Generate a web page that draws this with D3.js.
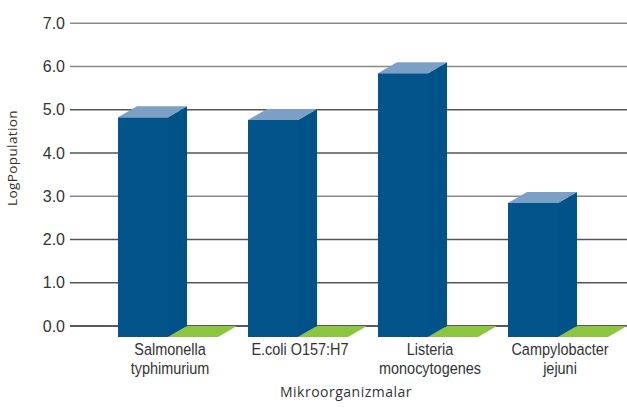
<!DOCTYPE html>
<html>
<head>
    <meta charset='utf-8' />
    <title></title>
    <style>
      body{ margin:0; background:#fff; }
      svg{ display:block; }
      .tick text{ font-family: "Liberation Sans", Arial, sans-serif; font-size:16px; fill:#333; }
      .cat{ font-family: "Liberation Sans", Arial, sans-serif; font-size:17px; fill:#333; }
      .title{ font-family: "Open Sans", "Noto Sans", sans-serif; fill:#333; }
    </style>
</head>
<body>
<script src="https://d3js.org/d3.v7.min.js"></script>
<script>

// data
let categories = ['Salmonella typhimurium', 'E.coli O157:H7', 'Listeria monocytogenes', 'Campylobacter jejuni']
let catLines = [['Salmonella','typhimurium'], ['E.coli O157:H7'], ['Listeria','monocytogenes'], ['Campylobacter','jejuni']]
let logPop = [5.08, 5.02, 6.1, 3.1]
let series2 = [0, 0, 0, 0]
let yTicks = [0, 1, 2, 3, 4, 5, 6, 7]

let width = 627, height = 409,
  depthX = 19, depthY = 11

let svg = d3.select('body').append('svg').attr('width',width).attr('height',height)

let x = d3.scaleBand().domain(categories).range([103, 623]).paddingInner(0.2308).paddingOuter(0.1154)
let xs = d3.scaleBand().domain(['a','b']).range([0, x.bandwidth()])
let y = d3.scaleLinear().domain([0,7]).range([326, 23.3])

// grid (back wall)
let grid = svg.append('g')
grid.selectAll('line').data(yTicks).enter().append('line')
  .attr('x1',70).attr('x2',width)
  .attr('y1',d => y(d)).attr('y2',d => y(d))
  .style('stroke',d => d == 0 ? '#222' : (d >= 6 || d == 3 ? '#888' : '#555'))
  .style('stroke-width',1.5)

let yAxis = svg.append('g').attr('transform','translate(70,0)')
  .call(d3.axisLeft(y).tickValues(yTicks).tickFormat(d3.format('.1f')).tickSize(0).tickPadding(5))
yAxis.select('.domain').remove()

function bar3d(g, x0, w, v, front, top, side){
  let yb = y(v) + depthY, y0 = y(0) + depthY
  if(y0 - yb > 0){
    g.append('rect').attr('x',x0).attr('y',yb).attr('width',w).attr('height',y0-yb).style('fill',front)
    g.append('polygon')
      .attr('points',[[x0+w,yb],[x0+w+depthX,yb-depthY],[x0+w+depthX,y0-depthY],[x0+w,y0]].join(' '))
      .style('fill',side)
  }
  g.append('polygon')
    .attr('points',[[x0,yb],[x0+w,yb],[x0+w+depthX,yb-depthY],[x0+depthX,yb-depthY]].join(' '))
    .style('fill',top)
}

let bars = svg.append('g')
categories.forEach((c,i) => {
  let g = bars.append('g')
  // green (zero) first so the blue side sits on top
  bar3d(g, x(c)+xs('b'), xs.bandwidth(), series2[i], '#8cc63e', '#8cc63e', '#7ab232')
  bar3d(g, x(c)+xs('a'), xs.bandwidth(), logPop[i], '#02548b', '#7b9fc5', '#02528a')
})

// category labels, narrow font look via horizontal squeeze
let labels = svg.append('g')
categories.forEach((c,i) => {
  let cx = x(c) + x.bandwidth()/2 + 2
  let t = labels.append('text').attr('class','cat')
    .attr('text-anchor','middle')
    .attr('transform','translate('+cx+',355) scale(0.85,1)')
  catLines[i].forEach((l,j) => {
    t.append('tspan').attr('x',0).attr('dy', j == 0 ? 0 : 19).text(l)
  })
})

svg.append('text').attr('class','title').attr('text-anchor','middle')
  .style('font-size','14px').style('letter-spacing','0.5px')
  .attr('x',346).attr('y',397).text('Mikroorganizmalar')

svg.append('text').attr('class','title').attr('text-anchor','middle')
  .style('font-size','13.5px').style('letter-spacing','0.4px')
  .attr('transform','translate(17,158) rotate(-90)').text('LogPopulation')

</script>
</body>
</html>
